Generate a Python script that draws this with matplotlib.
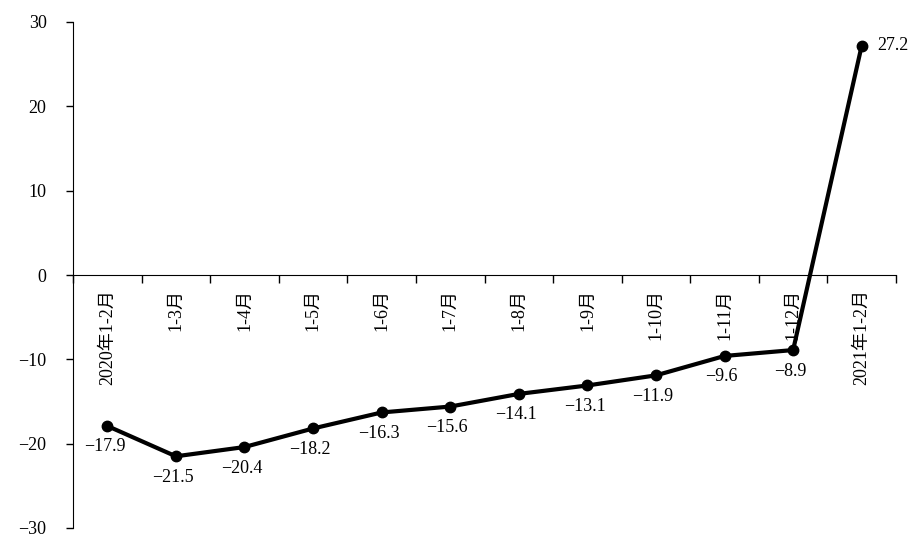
import matplotlib
matplotlib.use("Agg")
import matplotlib.pyplot as plt
import numpy as np

plt.rcParams['font.family'] = ['Liberation Serif', 'Noto Sans CJK SC']
plt.rcParams['axes.unicode_minus'] = True

# data
categories = ["2020年1-2月", "1-3月", "1-4月", "1-5月", "1-6月", "1-7月",
              "1-8月", "1-9月", "1-10月", "1-11月", "1-12月", "2021年1-2月"]
values = [-17.9, -21.5, -20.4, -18.2, -16.3, -15.6, -14.1, -13.1, -11.9, -9.6, -8.9, 27.2]
yticks = [-30, -20, -10, 0, 10, 20, 30]

fig = plt.figure(figsize=(9.21, 5.57), dpi=100)
ax = fig.add_axes([73 / 921, 29 / 557, 823 / 921, 506 / 557])

x = np.arange(len(categories))
ax.plot(x, values, color="black", lw=3, marker="o", markersize=7.5)

# data labels
for i, v in enumerate(values):
    txt = f"{v:.1f}".replace("-", "\u2212")
    if v > 0:
        ax.annotate(txt, (i, v), xytext=(11, 0), textcoords="offset points",
                    ha="left", va="center", fontsize=13)
    else:
        ax.annotate(txt, (i, v), xytext=(-2, -9), textcoords="offset points",
                    ha="center", va="top", fontsize=13)

ax.set_xlim(-0.5, len(categories) - 0.5)
ax.set_ylim(-30, 30)
ax.set_yticks(yticks)
ax.tick_params(axis="y", labelsize=13, length=5, width=1, pad=14)

# category axis crosses at zero
ax.spines["bottom"].set_position(("data", 0))
ax.spines["top"].set_visible(False)
ax.spines["right"].set_visible(False)
ax.set_xticks(np.arange(-0.5, len(categories), 1))
ax.set_xticklabels([])
ax.tick_params(axis="x", which="major", length=6, width=1)
ax.set_xticks(x, minor=True)
ax.set_xticklabels(categories, minor=True, rotation=90, fontsize=13)
ax.tick_params(axis="x", which="minor", length=0, pad=10)

fig.savefig("out.png", dpi=100)
